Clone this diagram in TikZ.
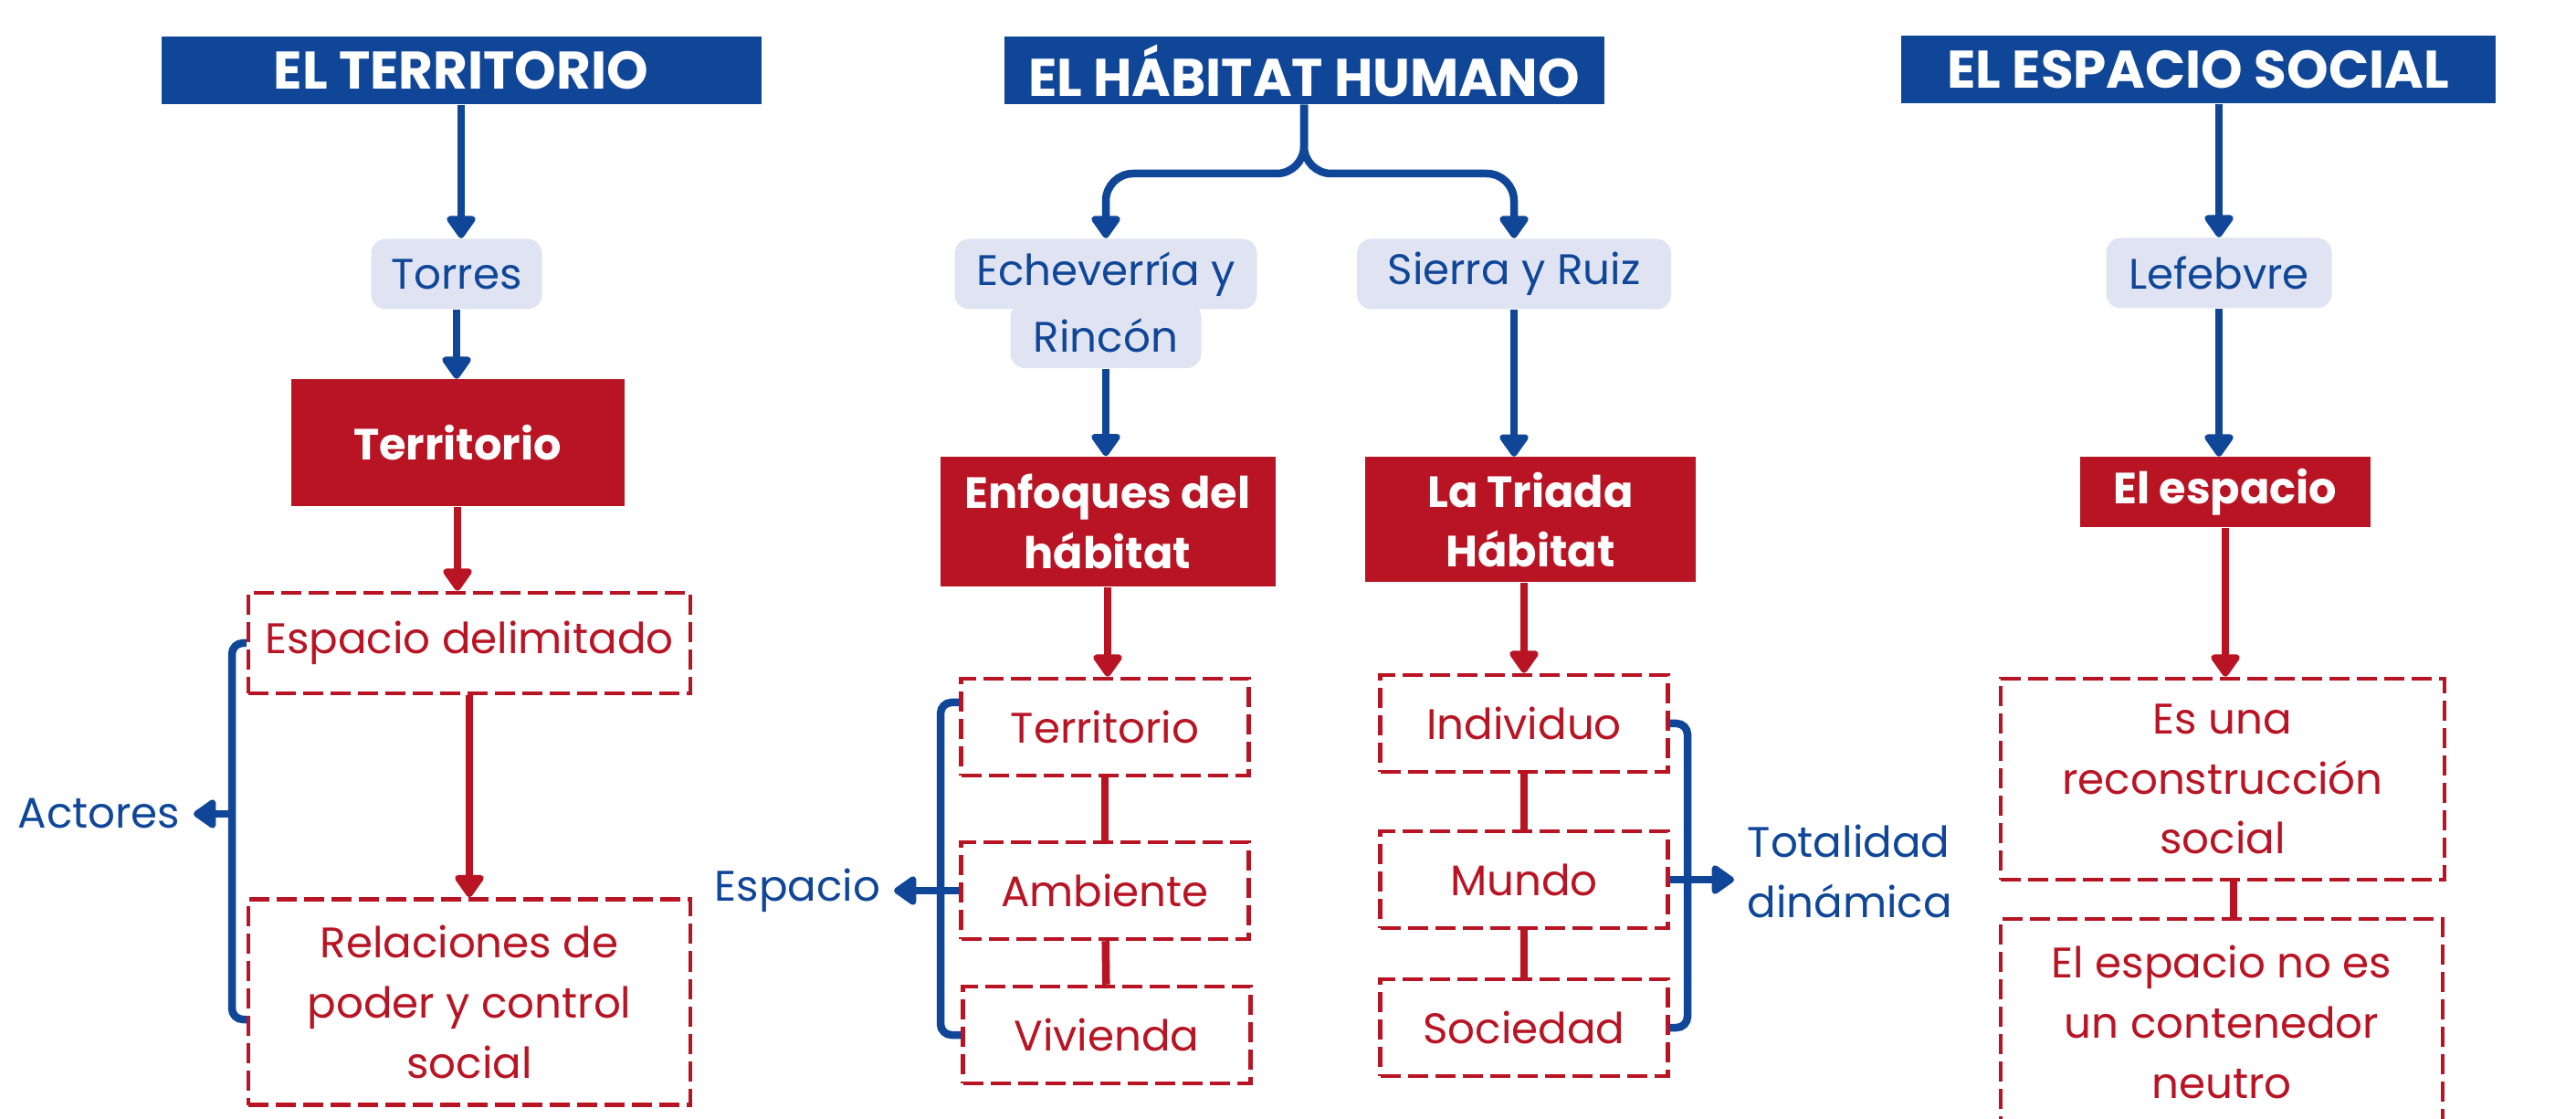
\documentclass[tikz,border=0pt]{standalone}
\usepackage{fontspec}
\setmainfont{Poppins}
\usepackage{tikz}
\usetikzlibrary{arrows.meta}

\definecolor{hblue}{RGB}{16,70,152}
\definecolor{hred}{RGB}{184,20,36}
\definecolor{hlight}{RGB}{224,228,242}

\newcommand\txtbody{\fontsize{13.3}{18.7}\selectfont}
\newcommand\txttitle{\fontsize{16.5}{18}\selectfont\bfseries}
\newcommand\txtconcept{\fontsize{13.6}{18.7}\selectfont\bfseries}

\tikzset{
  title/.style={fill=hblue, text=white, font=\txttitle, minimum width=6.57cm, minimum height=0.74cm, inner sep=0pt},
  author/.style={fill=hlight, text=hblue, font=\txtbody, rounded corners=0.16cm, minimum height=0.77cm, inner sep=0pt},
  concept/.style={fill=hred, text=white, font=\txtconcept, align=center, inner sep=0pt},
  idea/.style={draw=hred, line width=0.045cm, dash pattern=on 0.22cm off 0.08cm, text=hred, font=\txtbody, align=center, inner sep=0pt},
  note/.style={text=hblue, font=\txtbody, align=left, inner xsep=0.14cm, inner ysep=0pt},
  barrow/.style={draw=hblue, line width=0.085cm, -{Triangle[width=0.36cm, length=0.27cm, round]}},
  rarrow/.style={draw=hred, line width=0.085cm, -{Triangle[width=0.36cm, length=0.27cm, round]}},
  rline/.style={draw=hred, line width=0.085cm},
  brace/.style={draw=hblue, line width=0.085cm, rounded corners=0.12cm},
}

\begin{document}
\begin{tikzpicture}
  \fill[white] (0,0) rectangle (28.21,-12.25);
  \useasboundingbox (0,0) rectangle (28.21,-12.25);

  % EL TERRITORIO
  \node[title] (t1) at (5.05,-0.77) {EL TERRITORIO};
  \node[author, minimum width=1.87cm] (torres) at (5.00,-3.00) {Torres};
  \node[concept, minimum width=3.65cm, minimum height=1.39cm] (terr) at (5.01,-4.85) {Territorio};
  \node[idea, minimum width=4.84cm, minimum height=1.10cm] (espdel) at (5.14,-7.04) {Espacio delimitado};
  \node[idea, minimum width=4.84cm, minimum height=2.25cm] (relac) at (5.14,-10.97) {Relaciones de\\poder y control\\social};
  \node[note, anchor=east] (actores) at (2.12,-8.91) {Actores};
  \coordinate (b1) at (2.54,-8.91);

  \draw[barrow] (t1.south) -- (t1.south |- torres.north);
  \draw[barrow] (torres.south) -- (torres.south |- terr.north);
  \draw[rarrow] (terr.south) -- (terr.south |- espdel.north);
  \draw[rarrow] (espdel.south) -- (espdel.south |- relac.north);
  \draw[brace] (espdel.west) -- (espdel.west -| b1) -- ([yshift=-0.19cm]relac.west -| b1) -- ([yshift=-0.19cm]relac.west);
  \draw[barrow] (b1) -- (actores);

  % EL HABITAT HUMANO
  \node[title] (t2) at (14.28,-0.77) {EL HÁBITAT HUMANO};
  \node[author, minimum width=3.31cm] (echev) at (12.11,-3.00) {Echeverría y};
  \node[author, minimum width=2.09cm, minimum height=0.72cm] (rincon) at (12.11,-3.67) {Rincón};
  \node[author, minimum width=3.44cm] (sierra) at (16.58,-3.00) {Sierra y Ruiz};
  \node[concept, minimum width=3.67cm, minimum height=1.42cm] (enfoq) at (12.13,-5.71) {Enfoques del\\hábitat};
  \node[concept, minimum width=3.62cm, minimum height=1.37cm] (triada) at (16.76,-5.69) {La Triada\\Hábitat};
  \node[idea, minimum width=3.15cm, minimum height=1.06cm] (terr2) at (12.10,-7.96) {Territorio};
  \node[idea, minimum width=3.15cm, minimum height=1.06cm] (amb) at (12.10,-9.75) {Ambiente};
  \node[idea, minimum width=3.15cm, minimum height=1.06cm] (viv) at (12.12,-11.33) {Vivienda};
  \node[idea, minimum width=3.15cm, minimum height=1.06cm] (indiv) at (16.69,-7.92) {Individuo};
  \node[idea, minimum width=3.15cm, minimum height=1.06cm] (mundo) at (16.69,-9.63) {Mundo};
  \node[idea, minimum width=3.15cm, minimum height=1.06cm] (soc) at (16.69,-11.25) {Sociedad};
  \node[note, anchor=east] (espnote) at (9.79,-9.75) {Espacio};
  \node[note, anchor=west] (total) at (18.99,-9.54) {Totalidad\\dinámica};
  \coordinate (b2) at (10.30,-9.75);
  \coordinate (b3) at (18.48,-9.63);
  \coordinate (fork) at (14.28,-1.90);

  \draw[barrow, rounded corners=0.3cm] (t2.south) -- (fork) -| (echev.north);
  \draw[barrow, rounded corners=0.3cm] (t2.south) -- (fork) -| (sierra.north);
  \draw[barrow] (rincon.south) -- (rincon.south |- enfoq.north);
  \draw[barrow] (sierra.south) -- (sierra.south |- triada.north);
  \draw[rarrow] (enfoq.south) -- (enfoq.south |- terr2.north);
  \draw[rarrow] (indiv.north |- triada.south) -- (indiv.north);
  \draw[rline] (terr2) -- (amb);
  \draw[rline] (amb) -- (viv);
  \draw[rline] (indiv) -- (mundo);
  \draw[rline] (mundo) -- (soc);
  \draw[brace] ([yshift=0.27cm]terr2.west) -- ([yshift=0.27cm]terr2.west -| b2) -- (viv.west -| b2) -- (viv.west);
  \draw[barrow] (amb.west) -- (espnote.east);
  \draw[brace] (indiv.east) -- (indiv.east -| b3) -- (soc.east -| b3) -- (soc.east);
  \draw[barrow] (mundo.east) -- (mundo.east -| total.west);

  % EL ESPACIO SOCIAL
  \node[title, minimum width=6.51cm] (t3) at (24.07,-0.76) {EL ESPACIO SOCIAL};
  \node[author, minimum width=2.47cm] (lefeb) at (24.30,-2.99) {Lefebvre};
  \node[concept, minimum width=3.18cm, minimum height=0.77cm] (elesp) at (24.37,-5.39) {El espacio};
  \node[idea, minimum width=4.86cm, minimum height=2.20cm] (esuna) at (24.34,-8.53) {Es una\\reconstrucción\\social};
  \node[idea, minimum width=4.84cm, minimum height=2.26cm] (noes) at (24.33,-11.19) {El espacio no es\\un contenedor\\neutro};

  \draw[barrow] (lefeb.north |- t3.south) -- (lefeb.north);
  \draw[barrow] (lefeb.south) -- (lefeb.south |- elesp.north);
  \draw[rarrow] (elesp.south) -- (elesp.south |- esuna.north);
  \draw[rline] ([xshift=0.12cm]esuna.south) -- ([xshift=0.12cm]esuna.south |- noes.north);
\end{tikzpicture}
\end{document}
